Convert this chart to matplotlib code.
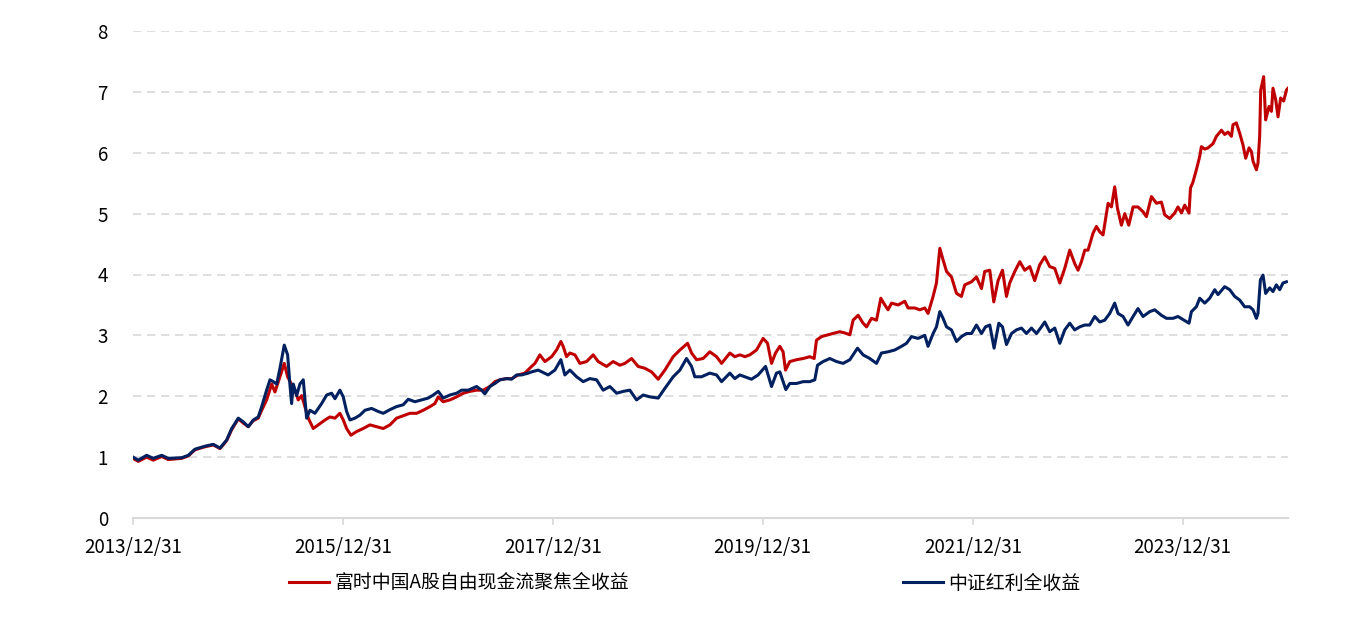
import numpy as np
import pandas as pd
import matplotlib
matplotlib.use("Agg")
import matplotlib.pyplot as plt

plt.rcParams['font.family'] = ['Noto Sans CJK SC', 'DejaVu Sans']

# ---------------- data (years elapsed since 2013/12/31) ----------------
red_name = "富时中国A股自由现金流聚焦全收益"
blue_name = "中证红利全收益"

red_years = [
    0.000, 0.050, 0.130, 0.193, 0.273, 0.336, 0.464, 0.527, 0.590, 0.686,
    0.765, 0.829, 0.892, 0.940, 1.003, 1.050, 1.098, 1.146, 1.193, 1.226,
    1.273, 1.321, 1.352, 1.400, 1.441, 1.473, 1.511, 1.543, 1.574, 1.607,
    1.638, 1.670, 1.717, 1.765, 1.829, 1.876, 1.924,
    1.971, 2.003, 2.035, 2.076, 2.130, 2.193, 2.257, 2.321, 2.384, 2.448,
    2.511, 2.574, 2.638, 2.702, 2.765, 2.829, 2.876, 2.908, 2.955, 3.019,
    3.083, 3.146, 3.210, 3.273, 3.336, 3.400, 3.448, 3.495, 3.559, 3.607,
    3.670, 3.733, 3.797, 3.829,
    3.876, 3.924, 3.988, 4.035, 4.076, 4.098, 4.130, 4.162, 4.210, 4.257,
    4.321, 4.384, 4.432, 4.511, 4.574, 4.638, 4.686, 4.750, 4.812, 4.876,
    4.940, 5.003, 5.067, 5.146, 5.210, 5.283, 5.321, 5.369, 5.431, 5.495,
    5.559, 5.607, 5.686, 5.733,
    5.781, 5.829, 5.876, 5.940, 6.003, 6.045, 6.083, 6.121, 6.162, 6.193,
    6.216, 6.257, 6.321, 6.384, 6.448, 6.489, 6.511, 6.559, 6.622, 6.686,
    6.733, 6.781, 6.829, 6.860, 6.908, 6.955, 6.988, 7.035, 7.083, 7.124,
    7.162, 7.193, 7.226, 7.289, 7.352, 7.384, 7.448, 7.495, 7.543, 7.574,
    7.622, 7.654, 7.686, 7.717, 7.750, 7.797, 7.845, 7.892, 7.924, 7.988,
    8.035, 8.083, 8.114, 8.162, 8.200, 8.241, 8.283, 8.321, 8.352, 8.400,
    8.448, 8.495, 8.543, 8.590, 8.638, 8.686, 8.733, 8.781, 8.829, 8.876,
    8.924, 8.971, 9.003, 9.035, 9.067, 9.098, 9.146, 9.178, 9.210, 9.241,
    9.289, 9.321, 9.352, 9.378, 9.416, 9.448, 9.486, 9.527,
    9.574, 9.622, 9.654, 9.702, 9.750, 9.797, 9.829, 9.876, 9.924, 9.955,
    9.988, 10.019, 10.060, 10.074, 10.098, 10.130, 10.162, 10.178, 10.210, 10.241,
    10.289, 10.321, 10.369, 10.400, 10.431, 10.464, 10.479, 10.511, 10.543, 10.574,
    10.600, 10.632, 10.654, 10.670, 10.702, 10.717, 10.733, 10.743, 10.771, 10.790,
    10.822, 10.845, 10.860, 10.886, 10.908, 10.933, 10.962, 10.988, 11.003,
]
red_values = [
    0.98, 0.93, 1.00, 0.95, 1.01, 0.96, 0.98, 1.02, 1.12, 1.17,
    1.20, 1.14, 1.27, 1.45, 1.63, 1.56, 1.50, 1.60, 1.64, 1.77,
    1.94, 2.20, 2.07, 2.32, 2.54, 2.32, 2.19, 2.10, 1.94, 2.01,
    1.83, 1.64, 1.47, 1.53, 1.61, 1.66, 1.64,
    1.72, 1.61, 1.47, 1.36, 1.42, 1.47, 1.53, 1.50, 1.47, 1.53,
    1.64, 1.68, 1.72, 1.72, 1.77, 1.83, 1.88, 1.99, 1.91, 1.94,
    1.99, 2.05, 2.08, 2.10, 2.10, 2.16, 2.24, 2.27, 2.29, 2.29,
    2.35, 2.38, 2.49, 2.54,
    2.68, 2.57, 2.65, 2.76, 2.90, 2.82, 2.65, 2.71, 2.68, 2.54,
    2.57, 2.68, 2.57, 2.49, 2.57, 2.51, 2.54, 2.62, 2.49, 2.46,
    2.40, 2.28, 2.43, 2.65, 2.76, 2.87, 2.71, 2.60, 2.62, 2.73,
    2.65, 2.54, 2.71, 2.65,
    2.68, 2.65, 2.68, 2.76, 2.95, 2.87, 2.54, 2.71, 2.82, 2.73,
    2.43, 2.57, 2.60, 2.62, 2.65, 2.62, 2.92, 2.98, 3.01, 3.04,
    3.06, 3.04, 3.01, 3.25, 3.33, 3.20, 3.14, 3.28, 3.25, 3.61,
    3.50, 3.42, 3.53, 3.50, 3.56, 3.45, 3.45, 3.42, 3.45, 3.36,
    3.64, 3.86, 4.43, 4.24, 4.05, 3.96, 3.69, 3.64, 3.83, 3.88,
    3.96, 3.77, 4.05, 4.07, 3.55, 3.90, 4.07, 3.64, 3.86, 4.05,
    4.21, 4.07, 4.13, 3.90, 4.16, 4.29, 4.13, 4.10, 3.86, 4.10,
    4.40, 4.18, 4.07, 4.21, 4.40, 4.40, 4.68, 4.79, 4.70, 4.65,
    5.17, 5.11, 5.44, 5.09, 4.81, 5.00, 4.81, 5.11,
    5.11, 5.03, 4.95, 5.28, 5.17, 5.19, 4.98, 4.92, 5.01, 5.11,
    5.01, 5.14, 5.01, 5.42, 5.52, 5.72, 5.94, 6.10, 6.06, 6.08,
    6.15, 6.27, 6.37, 6.30, 6.34, 6.27, 6.46, 6.49, 6.32, 6.13,
    5.91, 6.08, 6.02, 5.86, 5.72, 5.83, 6.27, 7.03, 7.25, 6.54,
    6.76, 6.68, 7.06, 6.87, 6.59, 6.90, 6.85, 7.03, 7.06,
]

blue_years = [
    0.000, 0.050, 0.130, 0.193, 0.273, 0.336, 0.464, 0.527, 0.590, 0.686,
    0.765, 0.829, 0.892, 0.940, 1.003, 1.050, 1.098, 1.146, 1.193, 1.226,
    1.273, 1.305, 1.336, 1.369, 1.400, 1.441, 1.473, 1.495, 1.511, 1.527,
    1.559, 1.590, 1.622, 1.654, 1.686, 1.733, 1.797, 1.845, 1.892, 1.924,
    1.971, 2.003, 2.035, 2.067, 2.114, 2.162, 2.210, 2.273, 2.336, 2.384,
    2.448, 2.511, 2.574, 2.622, 2.686, 2.750, 2.812, 2.860, 2.908, 2.955,
    3.019, 3.083, 3.130, 3.193, 3.273, 3.321, 3.352, 3.400, 3.448, 3.495,
    3.559, 3.607, 3.654, 3.702, 3.765,
    3.797, 3.860, 3.908, 3.955, 4.019, 4.076, 4.114, 4.162, 4.226, 4.289,
    4.352, 4.416, 4.479, 4.543, 4.607, 4.670, 4.733, 4.797, 4.860, 4.924,
    5.003, 5.067, 5.146, 5.210, 5.273, 5.321, 5.352, 5.416, 5.495, 5.559,
    5.607, 5.686,
    5.733, 5.781, 5.829, 5.892, 5.955, 6.026, 6.083, 6.130, 6.162, 6.219,
    6.257, 6.321, 6.384, 6.448, 6.495, 6.521, 6.574, 6.638, 6.702, 6.765,
    6.829, 6.902, 6.955, 7.019, 7.083, 7.130, 7.193, 7.257, 7.321, 7.369,
    7.416, 7.479, 7.543, 7.574,
    7.622, 7.654, 7.686, 7.717, 7.750, 7.797, 7.845, 7.892, 7.940, 7.988,
    8.035, 8.083, 8.121, 8.162, 8.203, 8.248, 8.283, 8.321, 8.369, 8.416,
    8.464, 8.511, 8.559, 8.607, 8.654, 8.686, 8.733, 8.781, 8.829, 8.876,
    8.924, 8.971, 9.019, 9.067, 9.114, 9.162, 9.210, 9.257, 9.305, 9.352,
    9.384, 9.432, 9.479, 9.527,
    9.574, 9.622, 9.686, 9.733, 9.797, 9.845, 9.908, 9.955, 10.003, 10.060,
    10.083, 10.130, 10.162, 10.210, 10.257, 10.305, 10.336, 10.400, 10.448, 10.495,
    10.543, 10.590, 10.638, 10.670, 10.702, 10.717, 10.740, 10.765, 10.790, 10.829,
    10.860, 10.892, 10.924, 10.955, 10.988,
]
blue_values = [
    1.00, 0.95, 1.03, 0.98, 1.03, 0.98, 0.99, 1.03, 1.13, 1.18,
    1.21, 1.15, 1.28, 1.47, 1.64, 1.58, 1.50, 1.61, 1.66, 1.83,
    2.10, 2.27, 2.24, 2.20, 2.46, 2.84, 2.68, 2.19, 1.88, 2.20,
    2.01, 2.20, 2.27, 1.64, 1.77, 1.72, 1.88, 2.02, 2.05, 1.96,
    2.10, 1.99, 1.75, 1.61, 1.64, 1.69, 1.77, 1.80, 1.75, 1.72,
    1.78, 1.83, 1.86, 1.95, 1.91, 1.94, 1.97, 2.02, 2.08, 1.97,
    2.02, 2.05, 2.10, 2.10, 2.16, 2.10, 2.04, 2.16, 2.21, 2.27,
    2.29, 2.28, 2.35, 2.35, 2.38,
    2.40, 2.43, 2.39, 2.35, 2.43, 2.60, 2.35, 2.43, 2.32, 2.24,
    2.29, 2.27, 2.10, 2.16, 2.05, 2.08, 2.10, 1.94, 2.02, 1.99,
    1.97, 2.13, 2.32, 2.43, 2.62, 2.49, 2.32, 2.32, 2.38, 2.35,
    2.24, 2.38,
    2.29, 2.35, 2.32, 2.28, 2.35, 2.49, 2.16, 2.38, 2.40, 2.11,
    2.21, 2.21, 2.24, 2.24, 2.27, 2.51, 2.57, 2.62, 2.57, 2.54,
    2.60, 2.79, 2.68, 2.62, 2.54, 2.71, 2.73, 2.76, 2.82, 2.87,
    2.98, 2.95, 3.00, 2.82,
    3.03, 3.14, 3.39, 3.28, 3.14, 3.09, 2.90, 2.98, 3.03, 3.03,
    3.17, 3.03, 3.14, 3.17, 2.79, 3.20, 3.14, 2.85, 3.03, 3.09,
    3.12, 3.03, 3.12, 3.03, 3.14, 3.22, 3.06, 3.12, 2.87, 3.09,
    3.20, 3.09, 3.14, 3.17, 3.17, 3.31, 3.22, 3.25, 3.36, 3.53,
    3.36, 3.31, 3.17, 3.31,
    3.44, 3.31, 3.39, 3.42, 3.33, 3.28, 3.28, 3.31, 3.26, 3.20,
    3.39, 3.47, 3.61, 3.53, 3.61, 3.75, 3.67, 3.80, 3.75, 3.64,
    3.58, 3.47, 3.47, 3.42, 3.28, 3.36, 3.91, 3.99, 3.69, 3.78,
    3.72, 3.83, 3.75, 3.86, 3.88,
]

start_date = "2013-12-31"
tick_dates = ["2013-12-31", "2015-12-31", "2017-12-31", "2019-12-31",
              "2021-12-31", "2023-12-31"]
y_ticks = [0, 1, 2, 3, 4, 5, 6, 7, 8]

red_color = "#C00000"
blue_color = "#002060"
grid_color = "#D9D9D9"

# ---------------- build ----------------
t0 = pd.Timestamp(start_date)
def to_dates(yrs):
    return t0 + pd.to_timedelta(np.asarray(yrs) * 365.25, unit="D")

red_dates = to_dates(red_years)
blue_dates = to_dates(blue_years)

fig = plt.figure(figsize=(13.59, 6.25), dpi=100)
ax = fig.add_axes([133 / 1359, 107 / 625, (1288 - 133) / 1359, (518 - 31) / 625])

ax.plot(red_dates, red_values, color=red_color, lw=2.2, label=red_name,
        solid_joinstyle="round", zorder=3)
ax.plot(blue_dates, blue_values, color=blue_color, lw=2.2, label=blue_name,
        solid_joinstyle="round", zorder=4)

ax.set_ylim(0, 8)
ax.set_yticks(y_ticks)
ax.set_xlim(t0, max(red_dates.max(), blue_dates.max()))
ticks = [pd.Timestamp(d) for d in tick_dates]
ax.set_xticks(ticks)
ax.set_xticklabels([d.strftime("%Y/%m/%d") for d in ticks])

for y in y_ticks[1:]:
    ax.axhline(y, color=grid_color, lw=1.2, ls=(0, (5, 3.4)), zorder=1)

for s in ["top", "right", "left"]:
    ax.spines[s].set_visible(False)
ax.spines["bottom"].set_color(grid_color)
ax.spines["bottom"].set_linewidth(1.5)

ax.tick_params(axis="y", length=0, pad=18, labelsize=13.5, labelcolor="#000000")
ax.tick_params(axis="x", length=5, width=1.2, color=grid_color, pad=9,
               labelsize=13.5, labelcolor="#000000")

fig.legend(loc="center", bbox_to_anchor=(685 / 1359, 1 - 583 / 625), ncol=2,
           frameon=False, fontsize=13.6, handlelength=2.1, handletextpad=0.3,
           columnspacing=14.5)

fig.savefig("out.png", dpi=100, facecolor="white")
